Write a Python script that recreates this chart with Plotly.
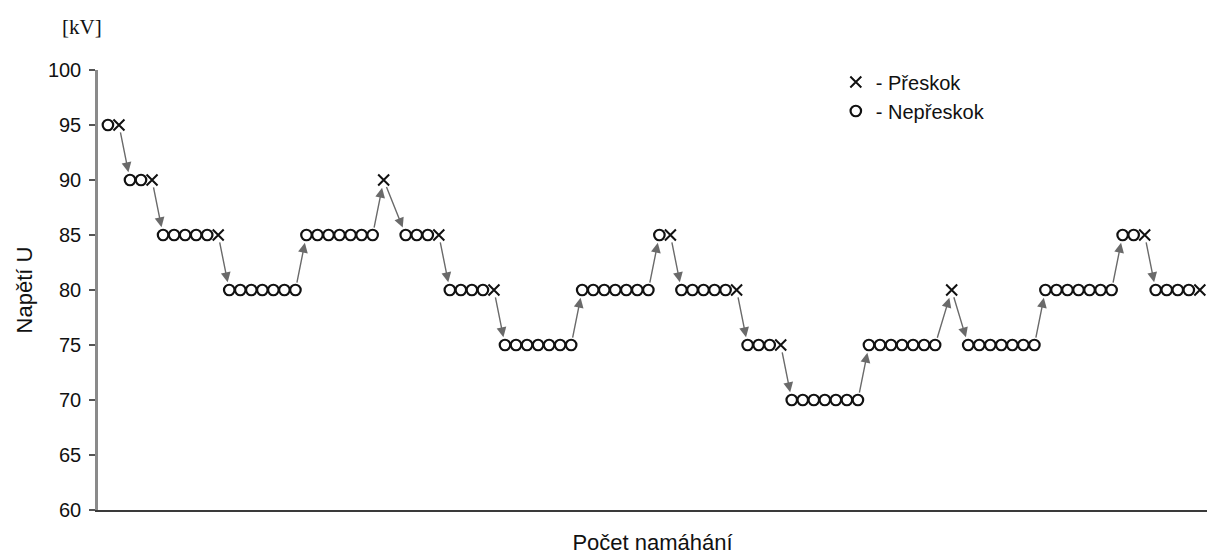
import plotly.graph_objects as go

# Test sequence (up-and-down method)
test_position = [0, 1,
                 2, 3, 4,
                 5, 6, 7, 8, 9, 10,
                 11, 12, 13, 14, 15, 16, 17,
                 18, 19, 20, 21, 22, 23, 24,
                 25,
                 27, 28, 29, 30,
                 31, 32, 33, 34, 35,
                 36, 37, 38, 39, 40, 41, 42,
                 43, 44, 45, 46, 47, 48, 49,
                 50, 51,
                 52, 53, 54, 55, 56, 57,
                 58, 59, 60, 61,
                 62, 63, 64, 65, 66, 67, 68,
                 69, 70, 71, 72, 73, 74, 75,
                 76.5,
                 78, 79, 80, 81, 82, 83, 84,
                 85, 86, 87, 88, 89, 90, 91,
                 92, 93, 94,
                 95, 96, 97, 98, 99]

voltage_kV = [95, 95,
              90, 90, 90,
              85, 85, 85, 85, 85, 85,
              80, 80, 80, 80, 80, 80, 80,
              85, 85, 85, 85, 85, 85, 85,
              90,
              85, 85, 85, 85,
              80, 80, 80, 80, 80,
              75, 75, 75, 75, 75, 75, 75,
              80, 80, 80, 80, 80, 80, 80,
              85, 85,
              80, 80, 80, 80, 80, 80,
              75, 75, 75, 75,
              70, 70, 70, 70, 70, 70, 70,
              75, 75, 75, 75, 75, 75, 75,
              80,
              75, 75, 75, 75, 75, 75, 75,
              80, 80, 80, 80, 80, 80, 80,
              85, 85, 85,
              80, 80, 80, 80, 80]

outcome = ["o", "x",
           "o", "o", "x",
           "o", "o", "o", "o", "o", "x",
           "o", "o", "o", "o", "o", "o", "o",
           "o", "o", "o", "o", "o", "o", "o",
           "x",
           "o", "o", "o", "x",
           "o", "o", "o", "o", "x",
           "o", "o", "o", "o", "o", "o", "o",
           "o", "o", "o", "o", "o", "o", "o",
           "o", "x",
           "o", "o", "o", "o", "o", "x",
           "o", "o", "o", "x",
           "o", "o", "o", "o", "o", "o", "o",
           "o", "o", "o", "o", "o", "o", "o",
           "x",
           "o", "o", "o", "o", "o", "o", "o",
           "o", "o", "o", "o", "o", "o", "o",
           "o", "o", "x",
           "o", "o", "o", "o", "x"]

y_ticks = [60, 65, 70, 75, 80, 85, 90, 95, 100]

FONT = "Liberation Sans, Arial, sans-serif"
INK = "#111111"

fig = go.Figure()

xs_x = [p for p, o in zip(test_position, outcome) if o == "x"]
ys_x = [v for v, o in zip(voltage_kV, outcome) if o == "x"]
xs_o = [p for p, o in zip(test_position, outcome) if o == "o"]
ys_o = [v for v, o in zip(voltage_kV, outcome) if o == "o"]

fig.add_trace(go.Scatter(
    x=xs_x, y=ys_x, mode="markers", name="- Přeskok",
    marker=dict(symbol="x-thin", size=11, line=dict(color=INK, width=2), color=INK),
))
fig.add_trace(go.Scatter(
    x=xs_o, y=ys_o, mode="markers", name="- Nepřeskok",
    marker=dict(symbol="circle-open", size=10.5, line=dict(color=INK, width=2.2), color=INK),
))

# arrows between successive voltage levels
for k in range(len(voltage_kV) - 1):
    if voltage_kV[k + 1] != voltage_kV[k]:
        fig.add_annotation(
            x=test_position[k + 1], y=voltage_kV[k + 1],
            ax=test_position[k], ay=voltage_kV[k],
            xref="x", yref="y", axref="x", ayref="y",
            text="", showarrow=True,
            arrowhead=2, arrowsize=1.4, arrowwidth=1.4,
            arrowcolor="#6a6a6a", standoff=8, startstandoff=6,
        )

fig.add_annotation(
    x=(82 - 98) / 1109, y=(510 - 27) / 440, xref="paper", yref="paper",
    xanchor="center", yanchor="middle", showarrow=False, text="[kV]",
    font=dict(family="Liberation Serif, Times New Roman, serif", size=21, color=INK),
)

fig.update_layout(
    width=1207, height=556,
    margin=dict(l=98, r=0, t=70, b=46),
    paper_bgcolor="white", plot_bgcolor="white",
    font=dict(family=FONT, size=20, color=INK),
    showlegend=True,
    legend=dict(x=0.6653, y=1.017, xanchor="left", yanchor="top",
                font=dict(family=FONT, size=20, color=INK),
                bgcolor="rgba(0,0,0,0)", tracegroupgap=0, itemwidth=30),
)

fig.update_xaxes(
    range=[-0.9, 99.65], showgrid=False, zeroline=False,
    showticklabels=False, ticks="",
    showline=True, linecolor="#3a3a3a", linewidth=1.5,
    title=dict(text="Počet namáhání", font=dict(family=FONT, size=22, color=INK), standoff=24),
)
fig.update_yaxes(
    range=[60, 100], tickvals=y_ticks, showgrid=False, zeroline=False,
    ticks="outside", ticklen=6, tickcolor="#555555", tickwidth=1.5,
    showline=True, linecolor="#8a8a8a", linewidth=2.5,
    tickfont=dict(family=FONT, size=20, color=INK),
    ticklabelstandoff=4,
    title=dict(text="Napětí U", font=dict(family=FONT, size=22, color=INK), standoff=10),
)

fig.write_html("out.html")
